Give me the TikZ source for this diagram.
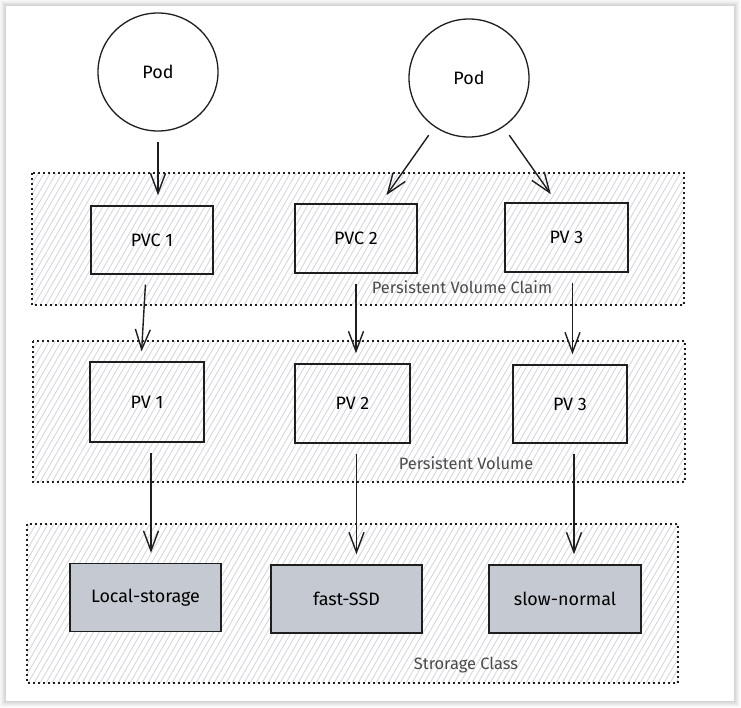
\documentclass[tikz,border=0pt]{standalone}
\usepackage{fontspec}
\setmainfont{Fira Sans}
\usetikzlibrary{shapes.geometric,arrows.meta}

\definecolor{tinta}{HTML}{1E1E1E}
\definecolor{rayado}{HTML}{D5D8DD}
\definecolor{relleno}{HTML}{C5CAD2}
\definecolor{rotulo}{HTML}{4A4A4A}

\tikzset{
  caja/.style={draw=tinta, line width=1.4bp, inner sep=0pt,
    minimum width=120bp, minimum height=70bp,
    font=\fontsize{18}{20}\selectfont},
  clase/.style={caja, fill=relleno, minimum width=151bp, minimum height=68bp},
  pod/.style={ellipse, draw=tinta, line width=1.3bp, fill=white,
    minimum width=120bp, minimum height=118bp,
    font=\fontsize{18}{20}\selectfont},
  grupo/.style={draw=tinta, line width=1.3bp, dash pattern=on 1.6bp off 3.4bp},
  raya/.style={draw=rayado, line width=0.9bp},
  rotgrupo/.style={text=rotulo, font=\fontsize{16.5}{19}\selectfont},
  flecha/.style={draw=tinta, line width=1.4bp,
    -{Straight Barb[length=20bp, width=15bp, line width=1.4bp]},
    shorten <=10bp, shorten >=10bp}
}

\begin{document}
\begin{tikzpicture}[x=1bp, y=-1bp]
\useasboundingbox (0,0) rectangle (741,708);

% Hoja
\foreach \d/\c in {6/3, 5/5, 4/8, 3/11, 2/14, 1/17}
  \fill[black!\c] (6-\d,6-\d) rectangle (734+\d,701+\d);
\fill[white] (6,6) rectangle (734,701);

% Grupos
\foreach \xa/\ya/\xb/\yb in {32/173/684/305, 33/341/685/482, 27/524/678/683} {
  \begin{scope}
    \clip (\xa,\ya) rectangle (\xb,\yb);
    \foreach \x in {-80,-74,...,690}
      \draw[raya] (\x,\yb) -- ++(100,-173);
  \end{scope}
  \draw[grupo] (\xa,\ya) rectangle (\xb,\yb);
}

\node[rotgrupo] (lpvc) at (462,287) {Persistent Volume Claim};
\node[rotgrupo] (lpv)  at (466,463) {Persistent Volume};
\node[rotgrupo] (lsc)  at (466,665) {Strorage Class};

% Pods
\node[pod] (pod1) at (158,72) {Pod};
\node[pod] (pod2) at (469,78) {Pod};

% PVC
\node[caja, minimum width=122bp, minimum height=68bp] (pvc1) at (152,240) {PVC 1};
\node[caja, minimum width=122bp, minimum height=69bp] (pvc2) at (356,238.5) {PVC 2};
\node[caja, minimum width=123bp, minimum height=69bp] (pvc3) at (566.5,237.5) {PV 3};

% PV
\node[caja, minimum width=114bp, minimum height=80bp] (pv1) at (147,402) {PV 1};
\node[caja, minimum width=115bp, minimum height=79bp] (pv2) at (352.5,403.5) {PV 2};
\node[caja, minimum width=114bp, minimum height=78bp] (pv3) at (570,404) {PV 3};

% Storage Class
\node[clase] (sc1) at (145.5,597.5) {Local-storage};
\node[clase] (sc2) at (346.5,599) {fast-SSD};
\node[clase, minimum width=152bp] (sc3) at (565,599) {slow-normal};

% Flechas
\draw[flecha] (pod1) -- (pod1 |- pvc1.north);
\draw[flecha] (pod2) -- (pvc2);
\draw[flecha] (pod2) -- ([xshift=-10bp]pvc3.north);

\draw[flecha] ([xshift=-6bp]pvc1.south) -- ([xshift=-6bp]pv1.north);
\draw[flecha] (pvc2.south) -- (pvc2.south |- pv2.north);
\draw[flecha] ([xshift=6bp]pvc3.south) -- ([xshift=6bp]pvc3.south |- pv3.north);

\draw[flecha] ([xshift=4bp]pv1.south) -- ([xshift=4bp]pv1.south |- sc1.north);
\draw[flecha] ([xshift=4bp]pv2.south) -- ([xshift=4bp]pv2.south |- sc2.north);
\draw[flecha] ([xshift=4bp]pv3.south) -- ([xshift=4bp]pv3.south |- sc3.north);
\end{tikzpicture}
\end{document}
